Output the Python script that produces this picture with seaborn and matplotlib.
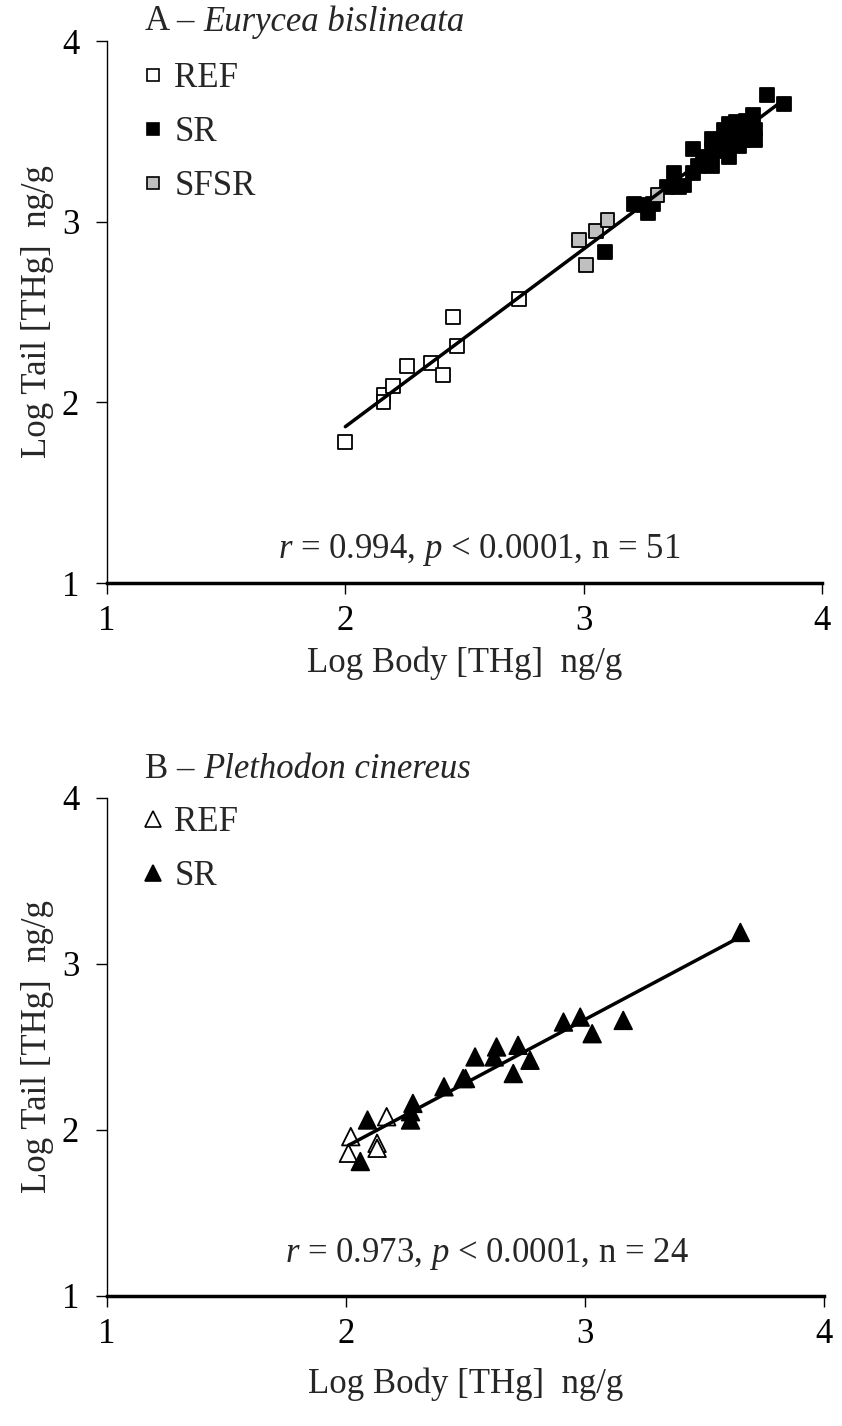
import numpy as np
import pandas as pd
import matplotlib
matplotlib.use("Agg")
import matplotlib.pyplot as plt
from matplotlib.lines import Line2D
import seaborn as sns

# ---------------- data ----------------
# Panel A - Eurycea bislineata (log body THg vs log tail THg)
a_ref_x = [2.00, 2.16, 2.16, 2.20, 2.26, 2.36, 2.41, 2.45, 2.47, 2.73]
a_ref_y = [1.78, 2.04, 2.00, 2.09, 2.20, 2.22, 2.15, 2.47, 2.31, 2.57]
a_sfsr_x = [2.98, 3.05, 3.10, 3.01, 3.31]
a_sfsr_y = [2.90, 2.95, 3.01, 2.76, 3.15]
a_sr_x = [3.09, 3.21, 3.25, 3.27, 3.29, 3.35, 3.38, 3.40, 3.42, 3.46, 3.46, 3.48,
          3.50, 3.52, 3.54, 3.54, 3.56, 3.57, 3.58, 3.59, 3.60, 3.61, 3.61, 3.63,
          3.64, 3.65, 3.66, 3.67, 3.68, 3.70, 3.71, 3.72, 3.72, 3.77, 3.84, 3.54]
a_sr_y = [2.83, 3.10, 3.09, 3.05, 3.10, 3.19, 3.27, 3.19, 3.20, 3.40, 3.27, 3.31,
          3.34, 3.36, 3.40, 3.31, 3.42, 3.45, 3.39, 3.51, 3.41, 3.54, 3.36, 3.48,
          3.55, 3.42, 3.50, 3.45, 3.56, 3.51, 3.59, 3.51, 3.45, 3.70, 3.65, 3.46]

# Panel B - Plethodon cinereus
b_ref_x = [2.02, 2.01, 2.17, 2.13, 2.13]
b_ref_y = [1.96, 1.86, 2.08, 1.92, 1.89]
b_sr_x = [2.06, 2.09, 2.28, 2.27, 2.27, 2.41, 2.49, 2.50, 2.54, 2.62, 2.63, 2.70,
          2.72, 2.77, 2.91, 2.98, 3.03, 3.16, 3.65]
b_sr_y = [1.81, 2.06, 2.16, 2.11, 2.06, 2.26, 2.31, 2.31, 2.44, 2.44, 2.50, 2.34,
          2.51, 2.42, 2.65, 2.68, 2.58, 2.66, 3.19]

ticks = [1, 2, 3, 4]
tick_labels = ["1", "2", "3", "4"]

title_a_label = "A – "
title_a_species = "Eurycea bislineata"
title_b_label = "B – "
title_b_species = "Plethodon cinereus"
stat_a = "$r$ = 0.994, $p$ < 0.0001, n = 51"
stat_b = "$r$ = 0.973, $p$ < 0.0001, n = 24"
xlab = "Log Body [THg]  ng/g"
ylab = "Log Tail [THg]  ng/g"

# ---------------- style ----------------
sns.set_theme(style="white")
plt.rcParams["font.family"] = ["Liberation Serif", "DejaVu Serif"]
plt.rcParams["mathtext.fontset"] = "custom"
plt.rcParams["mathtext.rm"] = "Liberation Serif"
plt.rcParams["mathtext.it"] = "Liberation Serif:italic"
FS = 25

dfa = pd.DataFrame({
    "x": a_ref_x + a_sr_x + a_sfsr_x,
    "y": a_ref_y + a_sr_y + a_sfsr_y,
    "g": ["REF"] * len(a_ref_x) + ["SR"] * len(a_sr_x) + ["SFSR"] * len(a_sfsr_x),
})
dfb = pd.DataFrame({
    "x": b_ref_x + b_sr_x,
    "y": b_ref_y + b_sr_y,
    "g": ["REF"] * len(b_ref_x) + ["SR"] * len(b_sr_x),
})
pal_a = {"REF": "white", "SR": "black", "SFSR": "#C0C0C0"}
pal_b = {"REF": "white", "SR": "black"}

fig = plt.figure(figsize=(8.42, 14.26), dpi=100)
W, H = 842, 1426
axA = fig.add_axes([107 / W, 1 - 583 / H, (822 - 107) / W, (583 - 41) / H])
axB = fig.add_axes([107 / W, 1 - 1296 / H, (824 - 107) / W, (1296 - 798) / H])


def style_axes(ax, xlabpad):
    ax.set_xlim(1, 4)
    ax.set_ylim(1, 4)
    ax.set_xticks(ticks)
    ax.set_yticks(ticks)
    ax.set_xticklabels(tick_labels)
    ax.set_yticklabels(tick_labels)
    for s in ["top", "right"]:
        ax.spines[s].set_visible(False)
    ax.spines["left"].set_linewidth(1.0)
    ax.spines["left"].set_color("black")
    ax.spines["bottom"].set_linewidth(2.5)
    ax.spines["bottom"].set_color("black")
    ax.tick_params(axis="x", direction="out", length=8, width=1.0, colors="black",
                   labelsize=FS, pad=8, bottom=True)
    ax.tick_params(axis="y", direction="out", length=8, width=1.0, colors="black",
                   labelsize=FS, pad=12, left=True)
    ax.set_xlabel(xlab, fontsize=FS, labelpad=xlabpad)
    ax.set_ylabel(ylab, fontsize=FS, labelpad=6)
    ax.grid(False)


# Panel A
sns.scatterplot(data=dfa, x="x", y="y", hue="g", palette=pal_a, marker="s", s=100,
                edgecolor="black", linewidth=1.3, legend=False, ax=axA, zorder=2)
sns.regplot(data=dfa, x="x", y="y", scatter=False, ci=None, color="black",
            line_kws={"linewidth": 2.5, "zorder": 3}, ax=axA)
style_axes(axA, 6)
axA.text(0.52, 0.06, stat_a, transform=axA.transAxes, ha="center", va="center", fontsize=FS)

# Panel B
sns.scatterplot(data=dfb, x="x", y="y", hue="g", palette=pal_b, marker="^", s=160,
                edgecolor="black", linewidth=1.3, legend=False, ax=axB, zorder=2)
sns.regplot(data=dfb, x="x", y="y", scatter=False, ci=None, color="black",
            line_kws={"linewidth": 2.5, "zorder": 3}, ax=axB)
style_axes(axB, 12)
axB.text(0.53, 0.085, stat_b, transform=axB.transAxes, ha="center", va="center", fontsize=FS)

# Titles
def title(xpx, ypx, lab, sp):
    t = fig.text(xpx / W, 1 - ypx / H, lab, fontsize=FS, ha="left", va="center")
    fig.canvas.draw()
    bb = t.get_window_extent()
    fig.text(bb.x1 / (W), 1 - ypx / H, sp, fontsize=FS, style="italic",
             ha="left", va="center")

title(145, 22, title_a_label, title_a_species)
title(145, 770, title_b_label, title_b_species)

# Legends
hA = [Line2D([], [], linestyle="none", marker="s", markersize=8, markerfacecolor=pal_a[k],
             markeredgecolor="black", markeredgewidth=1.2, label=k) for k in ["REF", "SR", "SFSR"]]
legA = axA.legend(handles=hA, loc="upper left", bbox_to_anchor=(143 / W, 1 - 62 / H),
                  bbox_transform=fig.transFigure, frameon=False, fontsize=FS,
                  borderpad=0, borderaxespad=0, handlelength=0.6, handletextpad=0.3,
                  labelspacing=0.6)
hB = [Line2D([], [], linestyle="none", marker="^", markersize=11, markerfacecolor=pal_b[k],
             markeredgecolor="black", markeredgewidth=1.2, label=k) for k in ["REF", "SR"]]
legB = axB.legend(handles=hB, loc="upper left", bbox_to_anchor=(143 / W, 1 - 806 / H),
                  bbox_transform=fig.transFigure, frameon=False, fontsize=FS,
                  borderpad=0, borderaxespad=0, handlelength=0.6, handletextpad=0.3,
                  labelspacing=0.6)

fig.savefig("out.png", dpi=100, facecolor="white")
